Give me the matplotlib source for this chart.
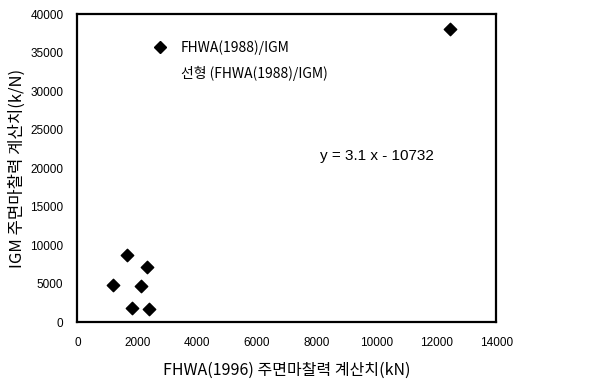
#!/usr/bin/env python3

import matplotlib
matplotlib.use('Agg')
import matplotlib.pyplot as plt
from matplotlib.lines import Line2D

plt.rcParams['font.family'] = ['Noto Sans CJK KR', 'DejaVu Sans']

# FHWA(1996) vs IGM skin friction values
fhwa = [1200, 1650, 2330, 2120, 1840, 2400, 12470]
igm = [4850, 8750, 7100, 4640, 1900, 1690, 38000]

xticks = [0, 2000, 4000, 6000, 8000, 10000, 12000, 14000]
yticks = [0, 5000, 10000, 15000, 20000, 25000, 30000, 35000, 40000]

fig = plt.figure(figsize=(6.14, 3.91), dpi=100)
ax = fig.add_axes([0.126, 0.176, 0.682, 0.788])

ax.scatter(fhwa, igm, marker='D', s=40, color='black', zorder=3)

ax.set_xlim(0, 14000)
ax.set_ylim(0, 40000)
ax.set_xticks(xticks)
ax.set_yticks(yticks)
ax.tick_params(length=0)
ax.tick_params(axis='x', pad=11)
ax.tick_params(axis='y', pad=10)
for lab in ax.get_xticklabels() + ax.get_yticklabels():
    lab.set_family('Liberation Sans')
    lab.set_fontsize(8.5)
for s in ax.spines.values():
    s.set_linewidth(1.6)

ax.set_xlabel('FHWA(1996) 주면마찰력 계산치(kN)', fontsize=11.5, labelpad=9)
ax.set_ylabel('IGM 주면마찰력 계산치(k/N)', fontsize=12, labelpad=3)

handles = [Line2D([], [], marker='D', color='black', linestyle='none', markersize=6),
           Line2D([], [], color='none')]
ax.legend(handles, ['FHWA(1988)/IGM', '선형 (FHWA(1988)/IGM)'],
          loc='upper left', bbox_to_anchor=(0.147, 0.955), frameon=False,
          fontsize=10, handlelength=1.2, handletextpad=0.9, labelspacing=0.8)

ax.text(0.58, 0.54, 'y = 3.1 x - 10732', transform=ax.transAxes,
        fontsize=11, va='center', family='Liberation Sans')

fig.savefig('out.png', dpi=100)
